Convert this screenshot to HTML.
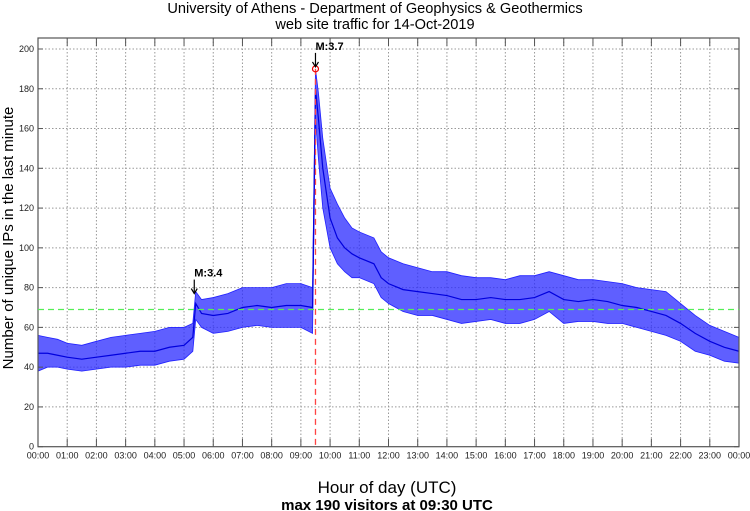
<!DOCTYPE html>
<html><head><meta charset="utf-8"><style>
body{margin:0;background:#fff;}
svg{display:block;font-family:"Liberation Sans",sans-serif;}
</style></head><body>
<svg id="chart" width="750" height="511" xmlns="http://www.w3.org/2000/svg">
<text x="375" y="13" font-size="14.6" text-anchor="middle">University of Athens - Department of Geophysics &amp; Geothermics</text>
<text x="375" y="29" font-size="14.6" text-anchor="middle">web site traffic for 14-Oct-2019</text>
<text x="387" y="493" font-size="17" text-anchor="middle">Hour of day (UTC)</text>
<text x="387" y="510" font-size="15" font-weight="bold" text-anchor="middle">max 190 visitors at 09:30 UTC</text>
<text transform="translate(13,238) rotate(-90)" font-size="15" text-anchor="middle">Number of unique IPs in the last minute</text>
<g id="grid"></g><g id="series"></g><g id="axes"></g><g id="notes"></g>
</svg>
<script>
const times=[0,0.33,0.67,1,1.5,2,2.5,3,3.5,4,4.5,5,5.3,5.4,5.6,6,6.5,7,7.5,8,8.5,9,9.4,9.5,9.6,9.75,10,10.25,10.5,10.75,11,11.5,11.75,12,12.5,13,13.5,14,14.5,15,15.5,16,16.5,17,17.5,18,18.5,19,19.5,20,20.5,21,21.5,22,22.5,23,23.5,24];
const meanVals=[47,47,46,45,44,45,46,47,48,48,50,51,55,72,67,66,67,70,71,70,71,71,70,180,165,140,115,105,100,97,95,92,85,82,79,78,77,76,74,74,75,74,74,75,78,74,73,74,73,71,70,68,66,62,57,53,50,48];
const lowVals=[38,40,40,39,38,39,40,40,41,41,43,44,48,64,60,57,58,60,61,60,60,60,57,165,145,120,100,92,88,85,85,82,75,72,68,66,66,64,62,63,64,62,62,64,68,62,63,63,62,62,60,58,56,53,48,46,43,42];
const highVals=[56,55,54,52,51,53,55,56,57,58,60,60,62,78,74,75,77,80,80,80,82,82,80,190,178,155,130,122,115,110,108,105,98,95,92,90,88,88,86,85,85,84,86,86,88,86,84,84,83,82,80,79,78,72,66,61,58,55];
const yTicks=[0,20,40,60,80,100,120,140,160,180,200];
const hourLabels=["00:00","01:00","02:00","03:00","04:00","05:00","06:00","07:00","08:00","09:00","10:00","11:00","12:00","13:00","14:00","15:00","16:00","17:00","18:00","19:00","20:00","21:00","22:00","23:00","00:00"];
const avgLine=69;
const quakes=[{t:5.35,v:76,label:"M:3.4"},{t:9.5,v:190,label:"M:3.7"}];

const L=38,R=739,T=38,B=446.7,YMAX=200;
const X=h=>L+h*(R-L)/24;
const Y=v=>B-v*(B-49)/YMAX;
const NS="http://www.w3.org/2000/svg";
function mk(tag,attrs,parent){const e=document.createElementNS(NS,tag);for(const k in attrs)e.setAttribute(k,attrs[k]);parent.appendChild(e);return e;}
const grid=document.getElementById('grid'),axes=document.getElementById('axes'),series=document.getElementById('series'),notes=document.getElementById('notes');

yTicks.forEach(v=>{
  if(v>0){const g=mk('line',{x1:L,x2:R,y1:Y(v),y2:Y(v),stroke:'#999','stroke-dasharray':'1.5,2','stroke-width':1},grid);
  
  }
  const t=mk('text',{x:L-4,y:Y(v)+3,'font-size':9,'text-anchor':'end',fill:'#222'},axes);t.textContent=v;
  
  
  mk('line',{x1:L,x2:L+5,y1:Y(v),y2:Y(v),stroke:'#555'},axes);
  mk('line',{x1:R-5,x2:R,y1:Y(v),y2:Y(v),stroke:'#555'},axes);
});
hourLabels.forEach((lab,i)=>{
  const x=X(i);
  if(i>0&&i<24){const g=mk('line',{x1:x,x2:x,y1:T,y2:B,stroke:'#999','stroke-dasharray':'1.5,2','stroke-width':1},grid);
  
  }
  mk('line',{x1:x,x2:x,y1:B,y2:B-8,stroke:'#555'},axes);
  mk('line',{x1:x,x2:x,y1:T,y2:T+8,stroke:'#555'},axes);
  const t=mk('text',{x:x,y:B+12,'font-size':9,'text-anchor':'middle',fill:'#222'},axes);t.textContent=lab;
  
  
});
const frame=mk('rect',{x:L,y:T,width:R-L,height:B-T,fill:'none',stroke:'#555','stroke-width':1.2},axes);



let band='';times.forEach((t,i)=>band+=(i?'L':'M')+X(t)+','+Y(highVals[i]));
for(let i=times.length-1;i>=0;i--)band+='L'+X(times[i])+','+Y(lowVals[i]);
const bp=mk('path',{d:band+'Z',fill:'#2a2aff','fill-opacity':0.75,stroke:'#2020ff','stroke-width':0.8},series);


const ml=mk('polyline',{points:times.map((t,i)=>X(t)+','+Y(meanVals[i])).join(' '),fill:'none',stroke:'#0000dd','stroke-width':1.2},series);



const av=mk('line',{x1:L,x2:R,y1:Y(avgLine),y2:Y(avgLine),stroke:'#55ee55','stroke-dasharray':'6,4','stroke-width':1.2},notes);


const q=quakes[1];
const rl=mk('line',{x1:X(q.t),x2:X(q.t),y1:Y(q.v),y2:B,stroke:'#ff4444','stroke-dasharray':'6,4','stroke-width':1.3},notes);


const c=mk('circle',{cx:X(q.t),cy:Y(q.v),r:3,fill:'none',stroke:'#e00','stroke-width':1.2},notes);


quakes.forEach(e=>{
  const x=X(e.t),y=Y(e.v);
  mk('line',{x1:x,x2:x,y1:y-16,y2:y-3,stroke:'#000','stroke-width':1.2},notes);
  mk('path',{d:`M${x-3},${y-7}L${x},${y-2}L${x+3},${y-7}`,fill:'none',stroke:'#000','stroke-width':1.2},notes);
  const t=mk('text',{x:x,y:y-19,'font-size':11,'font-weight':'bold'},notes);t.textContent=e.label;
  
  
});
</script>
</body></html>
